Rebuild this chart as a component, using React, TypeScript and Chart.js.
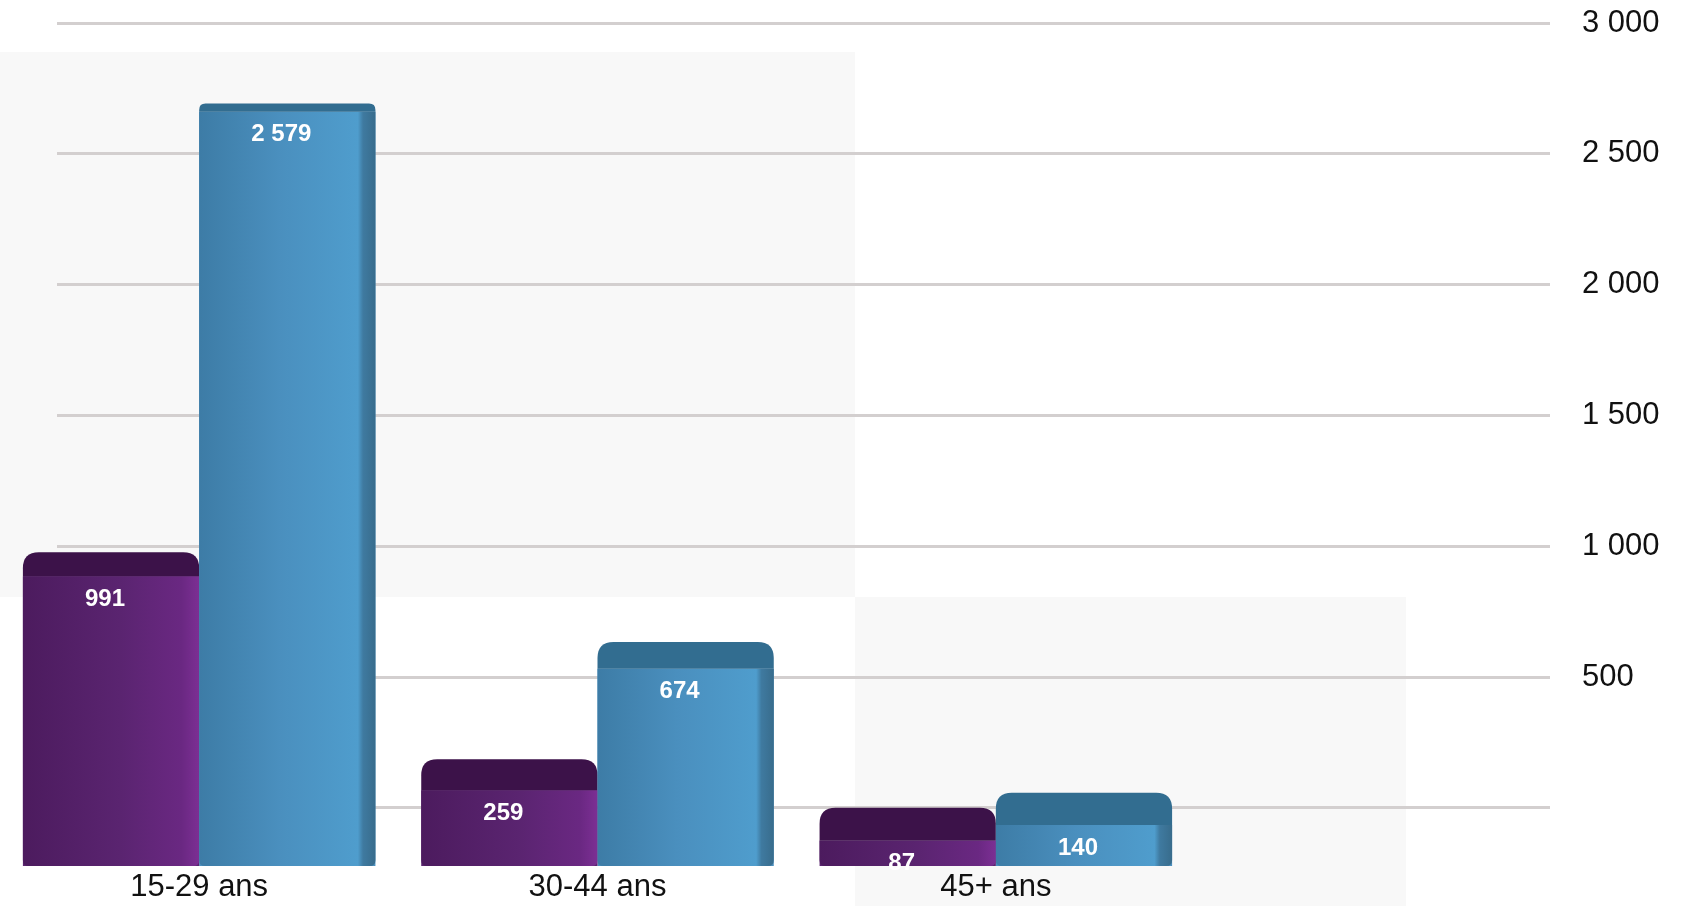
import React, { useEffect, useRef } from 'react';
import { Chart, registerables } from 'chart.js';

Chart.register(...registerables);

// ---- data ----
const categories = ['15-29 ans', '30-44 ans', '45+ ans'];
const seriesPurple = [991, 259, 87];
const seriesBlue = [2579, 674, 140];
const purpleValueLabels = ['991', '259', '87'];
const blueValueLabels = ['2 579', '674', '140'];
const yTickValues = [0, 500, 1000, 1500, 2000, 2500, 3000];
const yTickLabels = ['', '500', '1 000', '1 500', '2 000', '2 500', '3 000'];

const valueLabels = [purpleValueLabels, blueValueLabels];

const palettes = [
  {
    base: '#5a2470',
    stops: [
      [0, '#4c1b5e'],
      [0.55, '#5a2470'],
      [0.9, '#6a2882'],
      [1, '#7c2f94'],
    ],
    cap: '#3c1249',
  },
  {
    base: '#4a8fbe',
    stops: [
      [0, '#3d7ca6'],
      [0.45, '#4a8fbe'],
      [0.9, '#4f9dcd'],
      [0.93, '#3f7aa0'],
      [1, '#386c8c'],
    ],
    cap: '#326d90',
  },
];

function paintPanels(ctx: any, chart: any, x0: number, x1: number) {
  // white page with the faint grey panels of the original picture
  ctx.fillStyle = '#ffffff';
  ctx.fillRect(x0, 0, x1 - x0, chart.height);
  ctx.fillStyle = '#f8f8f8';
  const a = [0, 52, 855, 597];
  const b = [855, 597, 1406, 906];
  [a, b].forEach(([l, t, r, btm]) => {
    const L = Math.max(l, x0);
    const R = Math.min(r, x1);
    if (R > L) ctx.fillRect(L, t, R - L, btm - t);
  });
}

const decorPlugin = {
  id: 'decor',
  beforeDraw(chart: any) {
    const { ctx } = chart;
    ctx.save();
    paintPanels(ctx, chart, 0, chart.width);
    ctx.restore();
  },
  beforeDatasetsDraw(chart: any) {
    // the back-wall grid starts a little right of the left edge
    const { ctx } = chart;
    ctx.save();
    paintPanels(ctx, chart, 0, 57);
    ctx.restore();
  },
  afterDatasetsDraw(chart: any) {
    const { ctx } = chart;
    const top0 = chart.chartArea.top;
    chart.data.datasets.forEach((_ds: any, di: number) => {
      const meta = chart.getDatasetMeta(di);
      const pal = palettes[di];
      meta.data.forEach((el: any, i: number) => {
        const { x, y, base, width } = el.getProps(['x', 'y', 'base', 'width'], true);
        const left = x - width / 2;
        const right = x + width / 2;
        ctx.save();
        // front face shading
        const g = ctx.createLinearGradient(left, 0, right, 0);
        pal.stops.forEach(([o, c]: any) => g.addColorStop(o, c));
        ctx.fillStyle = g;
        ctx.beginPath();
        const rb = 6;
        ctx.moveTo(left, y);
        ctx.lineTo(right, y);
        ctx.lineTo(right, base - rb);
        ctx.quadraticCurveTo(right, base, right - rb, base);
        ctx.lineTo(left + rb, base);
        ctx.quadraticCurveTo(left, base, left, base - rb);
        ctx.closePath();
        ctx.fill();
        // top cap (3D)
        const t = 0.034 * (y - top0) + 5;
        const r = Math.min(t * 0.8, 16);
        ctx.fillStyle = pal.cap;
        ctx.beginPath();
        ctx.moveTo(left, y);
        ctx.lineTo(left, y - t + r);
        ctx.quadraticCurveTo(left, y - t, left + r, y - t);
        ctx.lineTo(right - r, y - t);
        ctx.quadraticCurveTo(right, y - t, right, y - t + r);
        ctx.lineTo(right, y);
        ctx.closePath();
        ctx.fill();
        // value label
        ctx.fillStyle = '#ffffff';
        ctx.font = 'bold 24px "Liberation Sans", Arial, sans-serif';
        ctx.textAlign = 'center';
        ctx.textBaseline = 'middle';
        ctx.fillText(valueLabels[di][i], x - 6, y + 23);
        ctx.restore();
      });
    });
  },
};

export default function App() {
  const canvasRef = useRef<HTMLCanvasElement | null>(null);

  useEffect(() => {
    const canvas = canvasRef.current;
    if (!canvas) return;
    const chart = new Chart(canvas, {
      type: 'bar',
      data: {
        labels: categories,
        datasets: [
          {
            label: 'Série 1',
            data: seriesPurple,
            backgroundColor: palettes[0].base,
            yAxisID: 'yBar',
            barPercentage: 1,
            categoryPercentage: 0.885,
          },
          {
            label: 'Série 2',
            data: seriesBlue,
            backgroundColor: palettes[1].base,
            yAxisID: 'yBar',
            barPercentage: 1,
            categoryPercentage: 0.885,
          },
        ],
      },
      options: {
        responsive: false,
        animation: false,
        devicePixelRatio: 1,
        layout: { padding: { top: 23, left: 0, right: 0, bottom: 0 } },
        plugins: {
          legend: { display: false },
          tooltip: { enabled: false },
        },
        scales: {
          x: {
            grid: { display: false, drawTicks: false },
            border: { display: false },
            ticks: {
              color: '#111111',
              padding: 3,
              font: { family: '"Liberation Sans", Arial, sans-serif', size: 31 },
            },
            afterFit(scale: any) {
              scale.height = 40;
            },
          },
          yBar: {
            type: 'linear',
            display: false,
            min: 0,
            max: 2882,
          },
          y: {
            type: 'linear',
            position: 'right',
            min: -222,
            max: 3000,
            bounds: 'data',
            border: { display: false },
            grid: {
              color: '#d3cfcf',
              lineWidth: 3,
              drawTicks: true,
              tickLength: 355,
              tickColor: '#d3cfcf',
              tickWidth: 3,
            },
            ticks: {
              color: '#111111',
              padding: 32,
              font: { family: '"Liberation Sans", Arial, sans-serif', size: 31 },
              callback: (value: any) => {
                const idx = yTickValues.indexOf(Number(value));
                return idx >= 0 ? yTickLabels[idx] : '';
              },
            },
            afterBuildTicks(scale: any) {
              scale.ticks = yTickValues.map((v) => ({ value: v }));
            },
            afterFit(scale: any) {
              scale.width = 489;
              scale.paddingTop = 0;
              scale.paddingBottom = 0;
            },
          },
        },
      } as any,
      plugins: [decorPlugin],
    });
    return () => chart.destroy();
  }, []);

  return (
    <div style={{ position: 'fixed', left: 0, top: 0, width: 1684, height: 906, background: '#fff' }}>
      <canvas ref={canvasRef} width={1684} height={906} style={{ display: 'block', width: 1684, height: 906 }} />
    </div>
  );
}
